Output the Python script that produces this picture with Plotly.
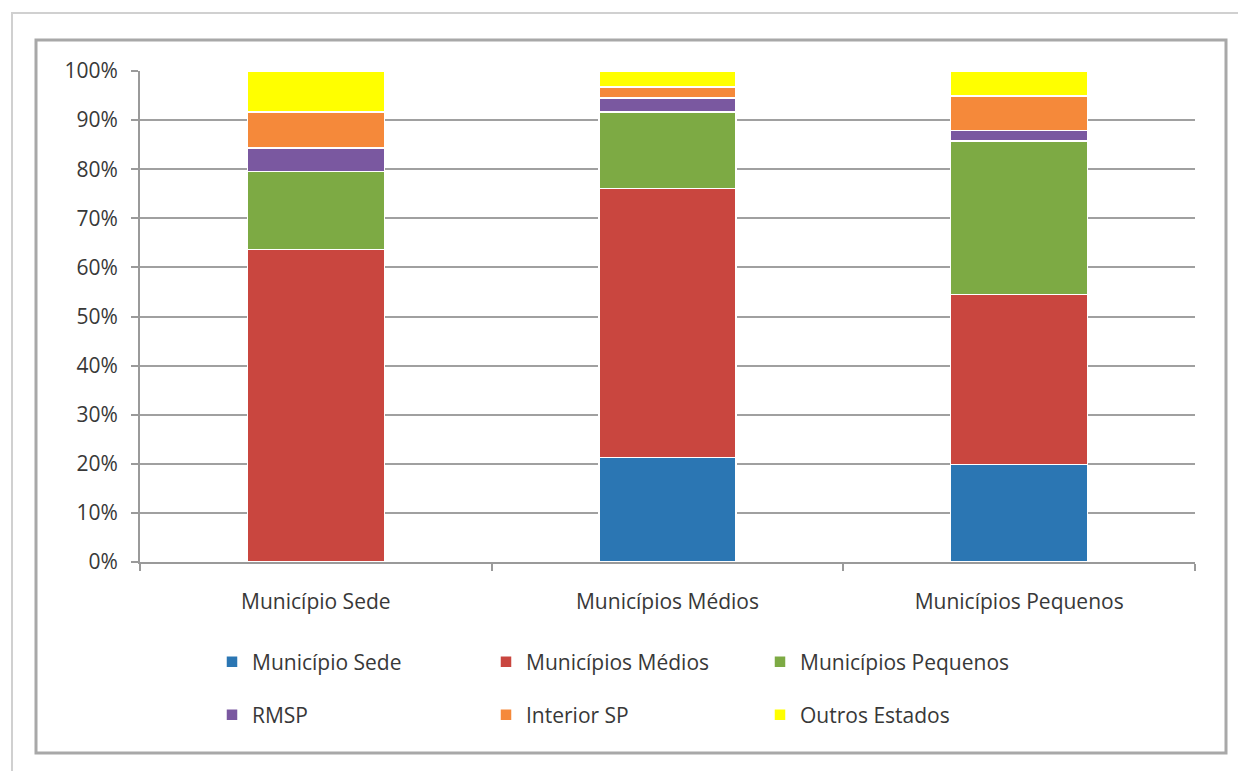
import plotly.graph_objects as go

categories = ["Município Sede", "Municípios Médios", "Municípios Pequenos"]
series_names = ["Município Sede", "Municípios Médios", "Municípios Pequenos",
                "RMSP", "Interior SP", "Outros Estados"]
municipio_sede = [0.0, 21.3, 19.9]
municipios_medios = [63.6, 54.8, 34.6]
municipios_pequenos = [15.9, 15.5, 31.2]
rmsp = [4.8, 2.9, 2.2]
interior_sp = [7.4, 2.2, 7.0]
outros_estados = [8.3, 3.3, 5.1]
y_tick_values = [0, 10, 20, 30, 40, 50, 60, 70, 80, 90, 100]
y_tick_labels = ["0%", "10%", "20%", "30%", "40%", "50%", "60%", "70%", "80%", "90%", "100%"]

colors = ["#2B76B3", "#C9463F", "#7DAA44", "#7A58A0", "#F5893A", "#FFFF00"]
series_values = [municipio_sede, municipios_medios, municipios_pequenos,
                 rmsp, interior_sp, outros_estados]

W, H = 1238, 771
L, R, T, B = 140, 1195, 71, 562
pw, ph = R - L, B - T

def px(x):
    return (x - L) / pw

def py(y):
    return (B - y) / ph

fig = go.Figure()
for i, (name, vals, col) in enumerate(zip(series_names, series_values, colors)):
    fig.add_trace(go.Bar(
        x=categories, y=vals, name=name,
        marker=dict(color=col, line=dict(color="#FFFFFF", width=1.5)),
        legend="legend" if i < 3 else "legend2",
    ))

font_color = "#383838"
font_family = "'Open Sans', Lato, sans-serif"
fsize = 21

legend_common = dict(
    orientation="h", xref="paper", yref="paper",
    xanchor="left", yanchor="middle",
    entrywidth=229, entrywidthmode="pixels",
    font=dict(family=font_family, size=fsize, color=font_color),
    bgcolor="rgba(0,0,0,0)", itemclick=False, itemdoubleclick=False,
    traceorder="normal",
)

fig.update_layout(
    width=W, height=H,
    barmode="stack", bargap=0.61,
    margin=dict(l=L, r=W - R, t=T, b=H - B, pad=0),
    paper_bgcolor="#FFFFFF", plot_bgcolor="#FFFFFF",
    font=dict(family=font_family, size=fsize, color=font_color),
    legend=dict(x=px(212), y=py(662), **legend_common),
    legend2=dict(x=px(212), y=py(715), **legend_common),
    xaxis=dict(
        showgrid=False, showline=True, linecolor="#9A9A9A", linewidth=2,
        ticks="outside", tickson="boundaries", ticklen=7, tickcolor="#9A9A9A", tickwidth=2,
        tickfont=dict(family=font_family, size=fsize, color=font_color),
        ticklabelstandoff=20,
    ),
    yaxis=dict(
        range=[0, 100], tickvals=y_tick_values, ticktext=y_tick_labels,
        showgrid=True, gridcolor="#A0A0A0", gridwidth=2,
        showline=True, linecolor="#9A9A9A", linewidth=2,
        ticks="outside", ticklen=7, tickcolor="#9A9A9A", tickwidth=2,
        tickfont=dict(family=font_family, size=fsize, color=font_color),
        ticklabelstandoff=9, zeroline=False,
    ),
    shapes=[
        dict(type="rect", xref="paper", yref="paper",
             x0=px(12), x1=px(1260), y0=py(790), y1=py(13),
             line=dict(color="#D0D0D0", width=2), fillcolor="rgba(0,0,0,0)", layer="below"),
        dict(type="rect", xref="paper", yref="paper",
             x0=px(36), x1=px(1226), y0=py(753), y1=py(40),
             line=dict(color="#A8A8A8", width=3), fillcolor="rgba(0,0,0,0)", layer="below"),
    ],
)

fig.write_html("out.html")
